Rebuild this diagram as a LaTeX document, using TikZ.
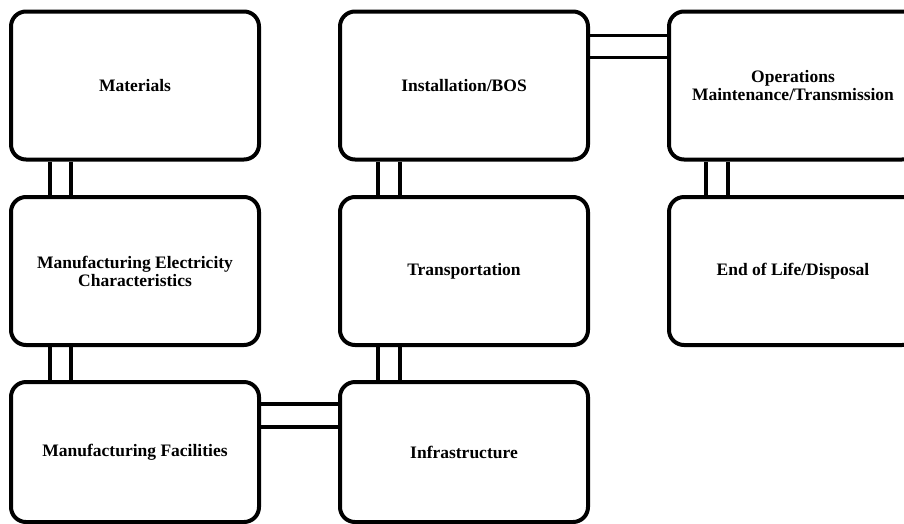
\documentclass[tikz,border=0pt]{standalone}
\usepackage{fontspec}
\setmainfont{Liberation Serif}
\usetikzlibrary{positioning}

\begin{document}
\begin{tikzpicture} [ % box and link styles
            x=1pt, y=-1pt,
            stage/.style = {rectangle, rounded corners=15pt, draw, line width=4pt,
                            minimum width=248pt, minimum height=148pt, inner sep=0pt,
                            align=center, font=\fontsize{17.5}{18}\selectfont\bfseries},
            stage-low/.style = {stage, minimum height=140pt},
            link/.style = {line width=3.5pt}
        ]

        \useasboundingbox (0,0) rectangle (904,523);
        \clip (0,0) rectangle (904,523);

        % top row
        \node [stage] (mat) at (135,85.5) {Materials};
        \node [stage] (inst) at (464,85.5) {Installation/BOS};
        \node [stage] (oper) at (793,85.5) {Operations\\Maintenance/Transmission};

        % middle row
        \node [stage] (mfgelec) at (135,271) {Manufacturing Electricity\\Characteristics};
        \node [stage] (trans) at (464,271) {Transportation};
        \node [stage] (eol) at (793,271) {End of Life/Disposal};

        % bottom row
        \node [stage-low] (mfgfac) at (135,452) {Manufacturing Facilities};
        \node [stage-low] (infra) at (464,452) {Infrastructure};

        % links
        \draw [link] ([xshift=41pt]mat.south west) -- ([xshift=41pt]mfgelec.north west);
        \draw [link] ([xshift=62pt]mat.south west) -- ([xshift=62pt]mfgelec.north west);
        \draw [link] ([xshift=41pt]mfgelec.south west) -- ([xshift=41pt]mfgfac.north west);
        \draw [link] ([xshift=62pt]mfgelec.south west) -- ([xshift=62pt]mfgfac.north west);

        \draw [link] ([xshift=40pt]inst.south west) -- ([xshift=40pt]trans.north west);
        \draw [link] ([xshift=62pt]inst.south west) -- ([xshift=62pt]trans.north west);
        \draw [link] ([xshift=40pt]trans.south west) -- ([xshift=40pt]infra.north west);
        \draw [link] ([xshift=62pt]trans.south west) -- ([xshift=62pt]infra.north west);

        \draw [link] ([xshift=39pt]oper.south west) -- ([xshift=39pt]eol.north west);
        \draw [link] ([xshift=61pt]oper.south west) -- ([xshift=61pt]eol.north west);

        \draw [link] ([yshift=-26pt]inst.north east) -- ([yshift=-26pt]oper.north west);
        \draw [link] ([yshift=-48pt]inst.north east) -- ([yshift=-48pt]oper.north west);

        \draw [link] ([yshift=-24pt]mfgfac.north east) -- ([yshift=-24pt]infra.north west);
        \draw [link] ([yshift=-47pt]mfgfac.north east) -- ([yshift=-47pt]infra.north west);

    \end{tikzpicture}
\end{document}
